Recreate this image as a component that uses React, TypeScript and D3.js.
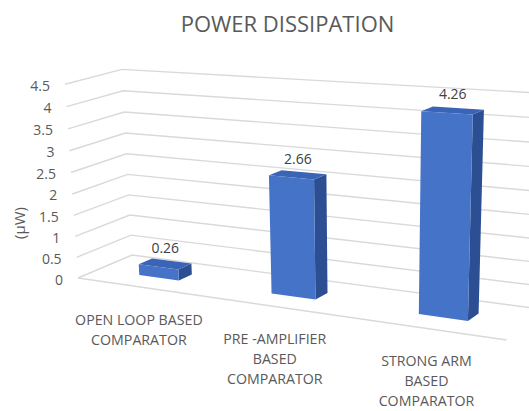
import React from "react";
import * as d3 from "d3";

// ---- data ----
const categories = ["OPEN LOOP BASED COMPARATOR", "PRE -AMPLIFIER BASED COMPARATOR", "STRONG ARM BASED COMPARATOR"];
const categoryLines = [
  ["OPEN LOOP BASED", "COMPARATOR"],
  ["PRE -AMPLIFIER", "BASED", "COMPARATOR"],
  ["STRONG ARM", "BASED", "COMPARATOR"],
];
const values = [0.26, 2.66, 4.26];
const valueLabels = ["0.26", "2.66", "4.26"];
const yTicks = [0, 0.5, 1, 1.5, 2, 2.5, 3, 3.5, 4, 4.5];
const yTickLabels = ["0", "0.5", "1", "1.5", "2", "2.5", "3", "3.5", "4", "4.5"];
const title = "POWER DISSIPATION";
const yTitle = "(\u00b5W)";

// ---- layout / perspective (vanishing-point camera) ----
const W = 529;
const H = 411;
const ORIGIN: [number, number] = [78, 278];
const VX: [number, number] = [-2328, -70];
const VY: [number, number] = [367, 4590];
const VZ: [number, number] = [1283, -235];
const KX = -0.0504; // per category unit
const KY = -0.043; // per full wall height
const KZ = 0.0469; // per full depth

function project(x: number, h: number, z: number): [number, number] {
  const a = KX * x;
  const b = KY * h;
  const c = KZ * z;
  const w = 1 + a + b + c;
  const X = (a * VX[0] + b * VY[0] + c * VZ[0] + ORIGIN[0]) / w;
  const Y = (a * VX[1] + b * VY[1] + c * VZ[1] + ORIGIN[1]) / w;
  return [X, Y];
}

const xBand = d3
  .scaleBand<string>()
  .domain(categories)
  .range([0, categories.length])
  .paddingInner(0.69)
  .paddingOuter(0.33);
const yScale = d3.scaleLinear().domain([0, 4.5]).range([0, 1]);
const BAR_Z0 = 0.37;
const BAR_Z1 = 0.62;

const poly = (pts: [number, number][]) => (d3.line()(pts) || "") + "Z";

const FONT = "'Open Sans', 'DejaVu Sans', sans-serif";
const GRID = "#d9d9d9";

export default function App() {
  const nCat = categories.length;
  return (
    <div style={{ position: "absolute", left: 0, top: 0 }}>
      <svg width={W} height={H} style={{ display: "block", background: "#fff" }}>
        <text x={287.5} y={32} textAnchor="middle" fontFamily={FONT} fontSize={22} fill="#595959">
          {title}
        </text>

        {/* side wall + back wall gridlines */}
        {yTicks.map((t) => {
          const h = yScale(t);
          const a = project(0, h, 0);
          const b = project(0, h, 1);
          const c = project(nCat, h, 1);
          return <path key={"g" + t} d={d3.line()([a, b, c]) || ""} fill="none" stroke={GRID} strokeWidth={1.4} />;
        })}
        {/* floor front edge */}
        <path
          d={d3.line()([project(0, 0, 0), project(nCat, 0, 0)]) || ""}
          fill="none"
          stroke={GRID}
          strokeWidth={1.4}
        />

        {/* tick labels */}
        {yTicks.map((t, i) => {
          const p = project(0, yScale(t), 0);
          return (
            <text
              key={"t" + t}
              x={p[0] - 15}
              y={p[1] + 1}
              textAnchor="end"
              dominantBaseline="central"
              fontFamily={FONT}
              fontSize={14}
              fill="#595959"
            >
              {yTickLabels[i]}
            </text>
          );
        })}

        <text
          transform="translate(19,223) rotate(-90)"
          textAnchor="middle"
          dominantBaseline="central"
          fontFamily={FONT}
          fontSize={15}
          fill="#595959"
        >
          {yTitle}
        </text>

        {/* bars */}
        {categories.map((cat, i) => {
          const x0 = xBand(cat) as number;
          const x1 = x0 + xBand.bandwidth();
          const h = yScale(values[i]);
          const front = poly([project(x0, 0, BAR_Z0), project(x1, 0, BAR_Z0), project(x1, h, BAR_Z0), project(x0, h, BAR_Z0)]);
          const side = poly([project(x1, 0, BAR_Z0), project(x1, 0, BAR_Z1), project(x1, h, BAR_Z1), project(x1, h, BAR_Z0)]);
          const top = poly([project(x0, h, BAR_Z0), project(x1, h, BAR_Z0), project(x1, h, BAR_Z1), project(x0, h, BAR_Z1)]);
          return (
            <g key={"b" + i}>
              <path d={side} fill="#2C4F93" />
              <path d={top} fill="#3B64B6" />
              <path d={front} fill="#4473C8" />
            </g>
          );
        })}

        {/* data labels */}
        {categories.map((cat, i) => {
          const xc = (xBand(cat) as number) + xBand.bandwidth() / 2;
          const p = project(xc, yScale(values[i]), 0.5);
          return (
            <text key={"l" + i} x={p[0]} y={p[1] - 11} textAnchor="middle" fontFamily={FONT} fontSize={14} fill="#404040">
              {valueLabels[i]}
            </text>
          );
        })}

        {/* category labels */}
        {categories.map((cat, i) => {
          const xc = (xBand(cat) as number) + xBand.bandwidth() / 2;
          const p = project(xc, 0, 0);
          return (
            <text key={"c" + i} textAnchor="middle" fontFamily={FONT} fontSize={14.2} fill="#595959">
              {categoryLines[i].map((ln, j) => (
                <tspan key={j} x={p[0]} y={p[1] + 38 + j * 20}>
                  {ln}
                </tspan>
              ))}
            </text>
          );
        })}
      </svg>
    </div>
  );
}
